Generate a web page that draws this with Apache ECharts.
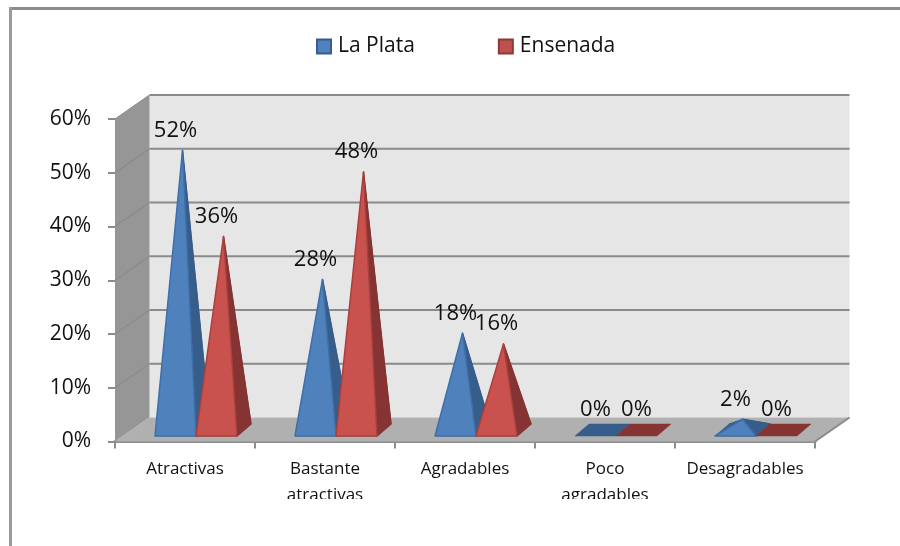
<!DOCTYPE html>
<html><head><meta charset="utf-8">
<style>html,body{margin:0;padding:0;background:#fff}#c{width:900px;height:546px}</style>
<script src="https://cdn.jsdelivr.net/npm/echarts@6/dist/echarts.min.js"></script>
</head><body><div id="c"></div>
<script>
const categories = ['Atractivas', 'Bastante\natractivas', 'Agradables', 'Poco\nagradables', 'Desagradables'];
const laPlata = [52, 28, 18, 0, 2];
const ensenada = [36, 48, 16, 0, 0];
const yTicks = [0, 10, 20, 30, 40, 50, 60];
const FONT = '"Open Sans", sans-serif';
const WALL = [34.5, -24];       // depth of the 3D box
const DEPTH = [14, -12];        // depth of a pyramid base
const BAR_W = 41, INSET_Y = -5.5, LEFT = -30;

const chart = echarts.init(document.getElementById('c'), null, {renderer: 'canvas'});

function poly(points, fill, stroke, lw) {
  return {type: 'polygon', shape: {points}, style: {fill, stroke: stroke || fill, lineJoin: 'round', lineWidth: lw === undefined ? 1 : lw}};
}
function line(a, b, stroke, lw) {
  return {type: 'line', shape: {x1: a[0], y1: a[1], x2: b[0], y2: b[1]}, style: {stroke, lineWidth: lw}};
}
function wallItem(params, api) {
  const n = categories.length;
  const edgeL = api.coord([0, 0])[0] - api.size([1, 0])[0] / 2;
  const edgeR = edgeL + api.size([1, 0])[0] * n;
  const y0 = api.coord([0, yTicks[0]])[1], yT = api.coord([0, yTicks[yTicks.length - 1]])[1];
  const b = (x, y) => [x + WALL[0], y + WALL[1]];
  const kids = [
    poly([b(edgeL, yT), b(edgeR, yT), b(edgeR, y0), b(edgeL, y0)], '#e6e6e6', '#e6e6e6', 0),
    poly([[edgeL, yT], b(edgeL, yT), b(edgeL, y0), [edgeL, y0]], '#969696', '#969696', 0),
    poly([[edgeL, y0], b(edgeL, y0), b(edgeR, y0), [edgeR, y0]], '#b0b0b0', '#b0b0b0', 0)
  ];
  yTicks.slice(1).forEach(t => {
    const y = api.coord([0, t])[1];
    kids.push(line([edgeL, y], b(edgeL, y), '#868686', 1));
    kids.push(line(b(edgeL, y), b(edgeR, y), '#8a8a8a', 2));
  });
  kids.push(line([edgeR, y0], b(edgeR, y0), '#8a8a8a', 2));
  return {type: 'group', children: kids};
}
function pyramidItem(seriesIdx, front, side, edge) {
  return function (params, api) {
    const i = api.value(0), v = api.value(1);
    const c = api.coord([i, 0]);
    const top = api.coord([i, v]);
    const xL = c[0] + LEFT + seriesIdx * BAR_W, xR = xL + BAR_W, yF = c[1] + INSET_Y;
    const FL = [xL, yF], FR = [xR, yF];
    const BL = [xL + DEPTH[0], yF + DEPTH[1]], BR = [xR + DEPTH[0], yF + DEPTH[1]];
    const h = c[1] - top[1];
    const apex = [(xL + xR) / 2 + DEPTH[0] / 2, yF + DEPTH[1] / 2 - h];
    const kids = [];
    kids.push(poly([FL, BL, BR, FR], side, side, 0.5));
    if (v > 0) {
      kids.push(poly([BL, BR, apex], side, side, 1));
      kids.push(poly([FR, BR, apex], side, side, 1.5));
      kids.push(poly([FL, FR, apex], front, edge, 1.5));
    }
    kids.push({type: 'text', style: {text: v + '%', x: apex[0] - 7, y: apex[1] - 20, align: 'center', verticalAlign: 'middle', font: '400 22px ' + FONT, fill: '#111'}});
    return {type: 'group', children: kids};
  };
}
function toData(a) { return a.map((v, i) => [i, v]); }

chart.setOption({
  animation: false,
  backgroundColor: '#fff',
  grid: {left: 115, right: 85, top: 119, bottom: 104.5, containLabel: false},
  legend: {
    data: ['La Plata', 'Ensenada'], left: 311, top: 31, itemWidth: 14, itemHeight: 14, itemGap: 83,
    icon: 'rect',
    textStyle: {fontFamily: FONT, fontSize: 21, color: '#111', padding: [0, 0, 0, 2]}
  },
  xAxis: {
    type: 'category', data: categories, boundaryGap: true,
    axisLine: {lineStyle: {color: '#8c8c8c', width: 3}},
    axisTick: {show: true, alignWithLabel: false, length: 7, lineStyle: {color: '#8c8c8c', width: 2}},
    axisLabel: {margin: 15, fontFamily: FONT, fontSize: 17, lineHeight: 26, color: '#111', interval: 0}
  },
  yAxis: {
    type: 'value', min: 0, max: 60, interval: 10,
    axisLine: {show: true, lineStyle: {color: '#8c8c8c', width: 1}},
    axisTick: {show: true, length: 7, lineStyle: {color: '#8c8c8c', width: 2}},
    axisLabel: {margin: 24, formatter: '{a|{value}%}', rich: {a: {fontFamily: FONT, fontSize: 21, color: '#111', height: 27, verticalAlign: 'bottom'}}},
    splitLine: {show: false}
  },
  series: [
    {type: 'custom', name: 'walls', z: 1, silent: true, clip: false, data: [[0, 0]], encode: {x: 0, y: 1}, renderItem: wallItem},
    {type: 'custom', name: 'La Plata', z: 3, clip: false, data: toData(laPlata), encode: {x: 0, y: 1},
      itemStyle: {color: '#4f81bd', borderColor: '#385d8a', borderWidth: 1},
      renderItem: pyramidItem(0, '#4f81bd', '#375d8a', '#3f6fa8')},
    {type: 'custom', name: 'Ensenada', z: 4, clip: false, data: toData(ensenada), encode: {x: 0, y: 1},
      itemStyle: {color: '#c0504d', borderColor: '#8c3836', borderWidth: 1},
      renderItem: pyramidItem(1, '#c9524f', '#853433', '#a8403d')}
  ],
  graphic: [
    {type: 'rect', z: 100, shape: {x: 9, y: 7, width: 891, height: 3}, style: {fill: '#8c8c8c'}},
    {type: 'rect', z: 100, shape: {x: 9, y: 7, width: 3, height: 539}, style: {fill: '#9a9a9a'}},
    {type: 'rect', z: 100, shape: {x: 100, y: 499, width: 740, height: 30}, style: {fill: '#fff'}}
  ]
});
</script></body></html>
